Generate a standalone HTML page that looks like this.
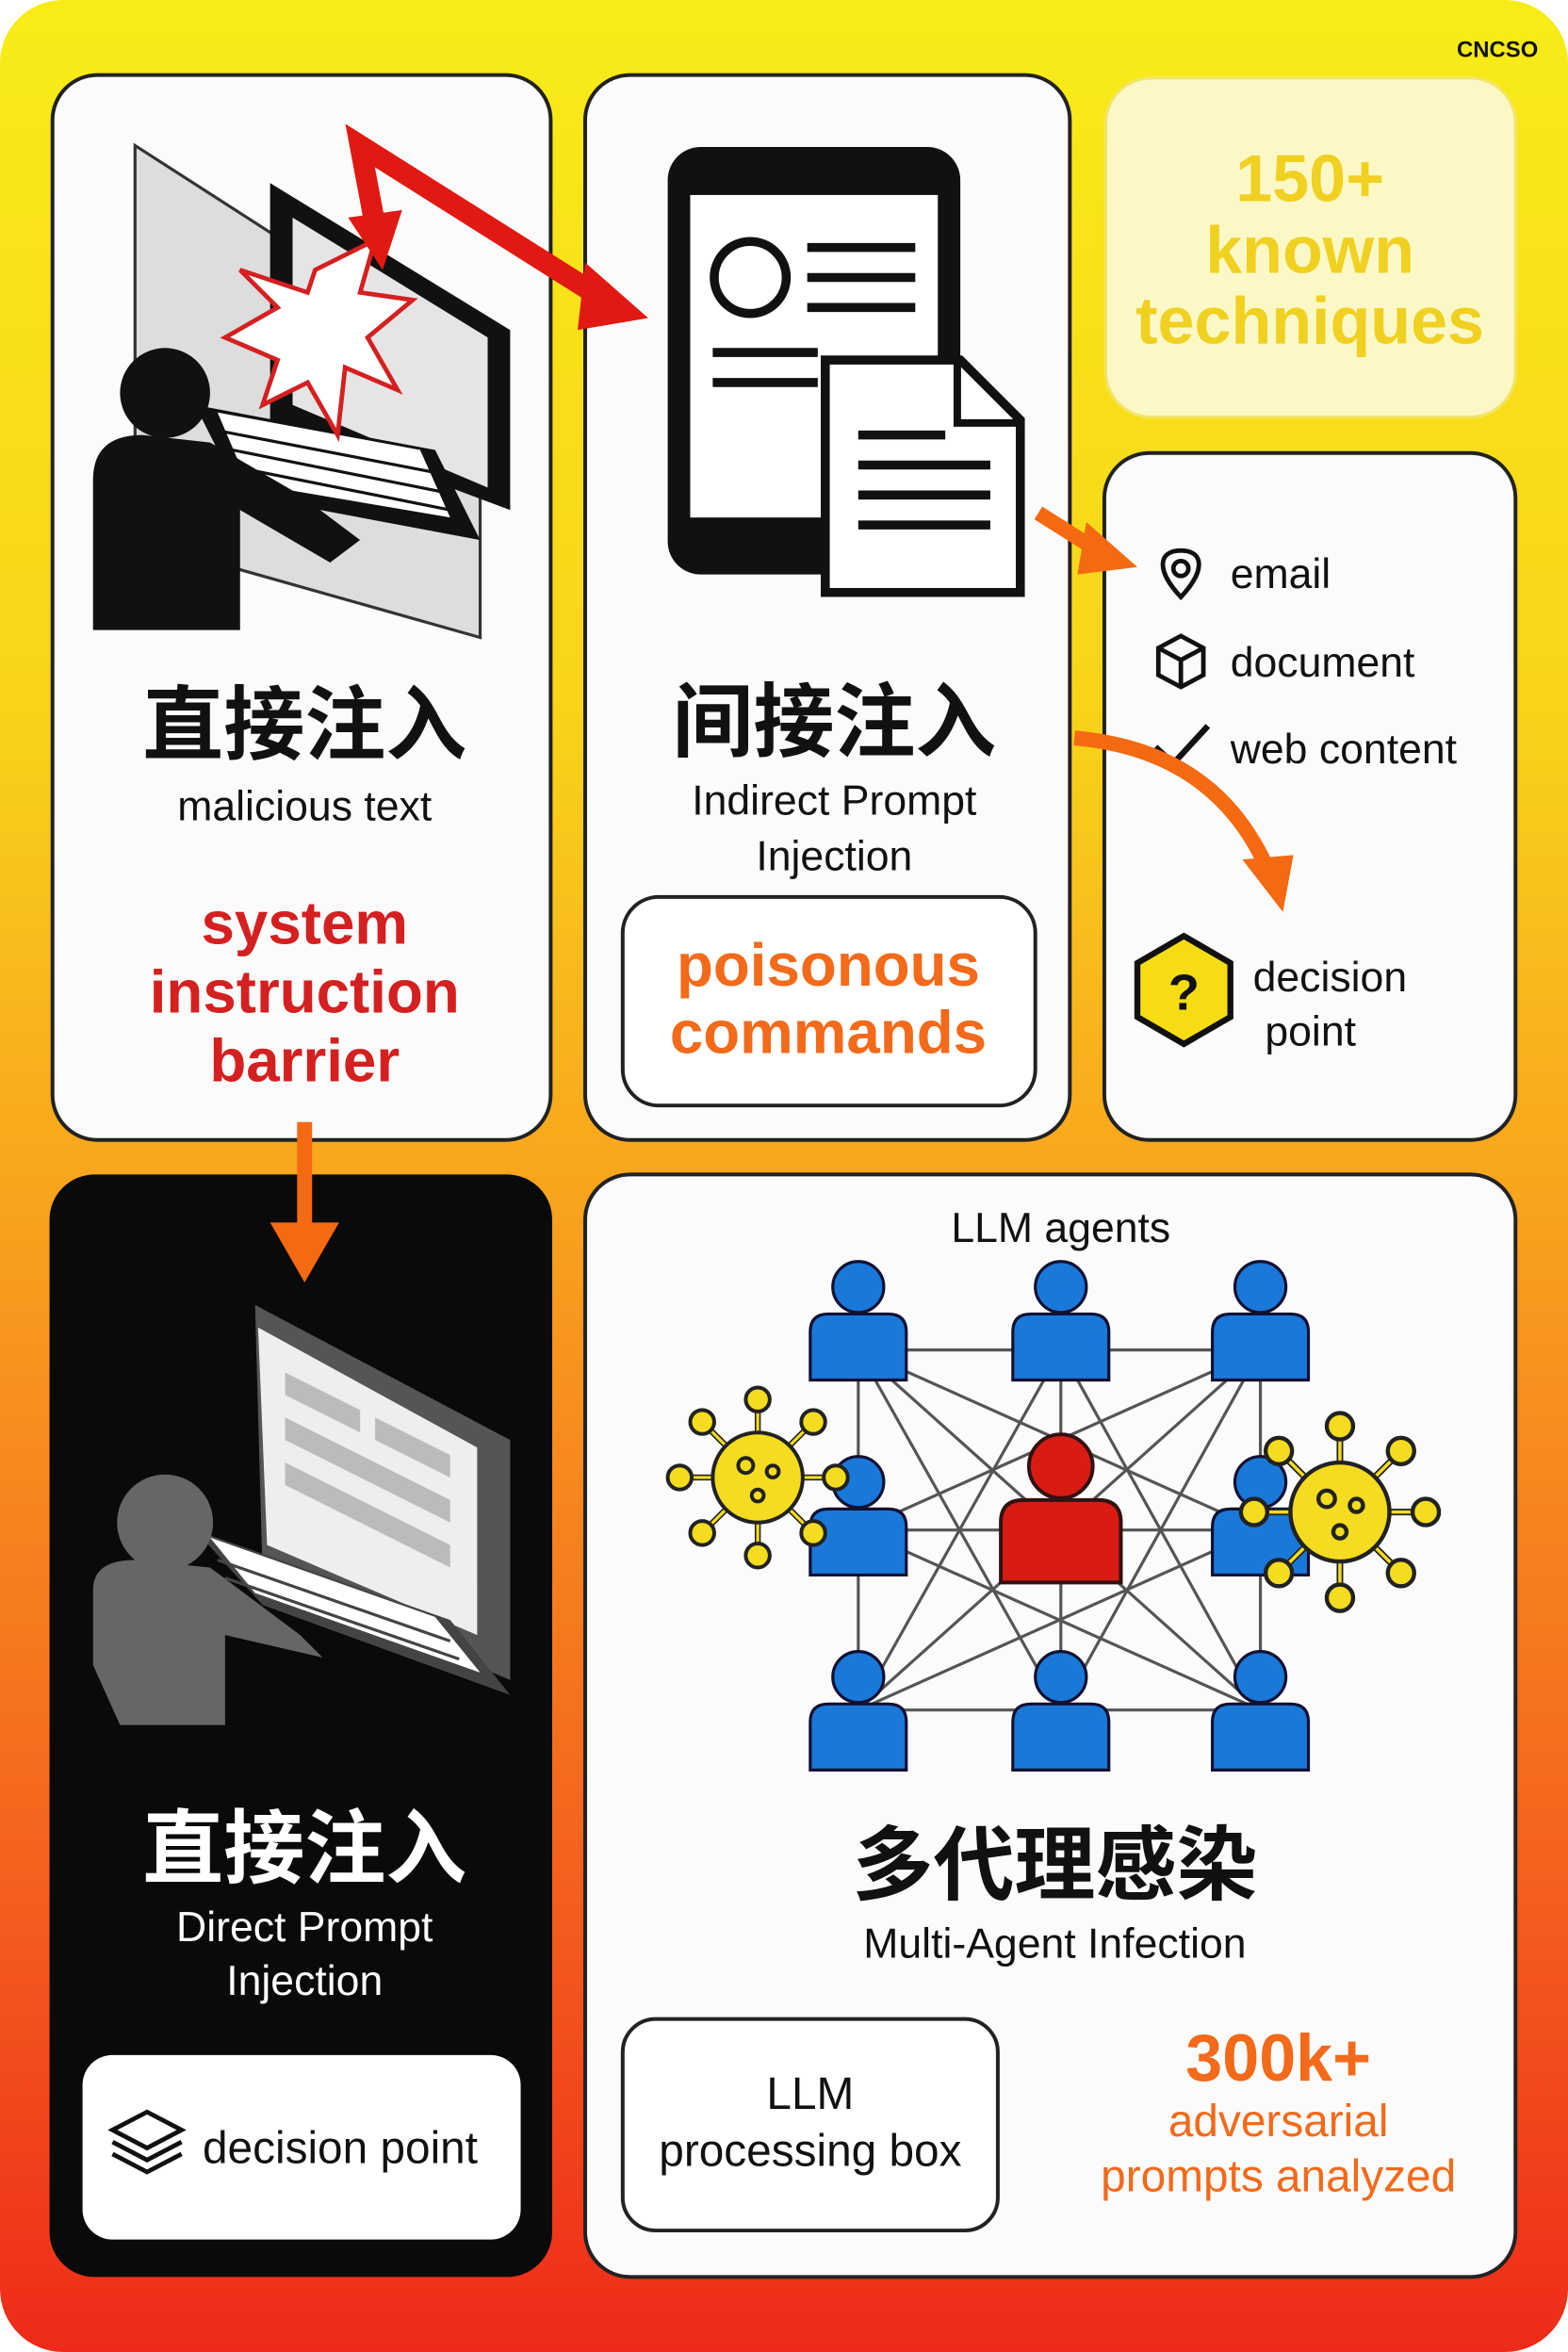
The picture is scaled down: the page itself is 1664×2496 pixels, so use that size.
<!DOCTYPE html>
<html><head><meta charset="utf-8"><style>
html,body{margin:0;padding:0;background:#fff;}
svg{display:block;}
text{font-family:"Liberation Sans","Noto Sans CJK SC",sans-serif;}
</style></head><body>
<svg width="1664" height="2496" viewBox="0 0 1045 1568" preserveAspectRatio="none" xmlns="http://www.w3.org/2000/svg">
<defs>
<linearGradient id="bg" x1="0" y1="0" x2="0" y2="1">
<stop offset="0" stop-color="#f8ec18"/><stop offset="0.3" stop-color="#f8d41a"/>
<stop offset="0.55" stop-color="#f89a1e"/><stop offset="0.8" stop-color="#f4601e"/><stop offset="1" stop-color="#ee2a1a"/>
</linearGradient>
<g id="person"><circle cx="0" cy="-22" r="17"/><path d="M-32 40 L-32 8 Q-32 -4 -20 -4 L20 -4 Q32 -4 32 8 L32 40 Z"/></g>
<g id="virus" fill="#f4dc20" stroke="#222" stroke-width="2.5">
<g stroke="#222" stroke-width="4"><line x1="-50" y1="0" x2="50" y2="0"/><line x1="0" y1="-50" x2="0" y2="50"/><line x1="-36" y1="-36" x2="36" y2="36"/><line x1="-36" y1="36" x2="36" y2="-36"/></g>
<g stroke="#f4dc20" stroke-width="2"><line x1="-48" y1="0" x2="48" y2="0"/><line x1="0" y1="-48" x2="0" y2="48"/><line x1="-34" y1="-34" x2="34" y2="34"/><line x1="-34" y1="34" x2="34" y2="-34"/></g>
<circle r="8" cx="-52" cy="0"/><circle r="8" cx="52" cy="0"/><circle r="8" cx="0" cy="-52"/><circle r="8" cx="0" cy="52"/>
<circle r="8" cx="-37" cy="-37"/><circle r="8" cx="37" cy="37"/><circle r="8" cx="-37" cy="37"/><circle r="8" cx="37" cy="-37"/>
<circle r="30"/><circle r="5" cx="-8" cy="-8"/><circle r="4" cx="10" cy="-4"/><circle r="4" cx="0" cy="12"/>
</g>
</defs>
<rect x="0" y="0" width="1045" height="1568" rx="42" fill="url(#bg)"/>
<text x="998" y="38" font-size="15" font-weight="bold" text-anchor="middle" fill="#111">CNCSO</text>

<!-- Panel 1 -->
<rect x="35" y="50" width="332" height="710" rx="30" fill="#fbfbfb" stroke="#222" stroke-width="2.5"/>
<polygon points="90,97 320,245 320,425 90,360" fill="#ddd" stroke="#333" stroke-width="2"/>
<path d="M180 122 L340 220 L340 340 L180 280 Z" fill="#111"/>
<path d="M195 145 L325 225 L325 325 L195 270 Z" fill="#e5e5e5"/>
<polygon points="130,270 290,300 320,360 160,330" fill="#111"/>
<polygon points="145,275 280,300 300,345 165,322" fill="#fff"/>
<g stroke="#111" stroke-width="2"><line x1="150" y1="288" x2="290" y2="315"/><line x1="155" y1="300" x2="295" y2="328"/><line x1="160" y1="312" x2="300" y2="340"/></g>
<circle cx="110" cy="262" r="30" fill="#111"/>
<path d="M62 420 L62 320 Q62 290 95 290 L140 295 L200 330 L240 360 L220 375 L160 340 L160 420 Z" fill="#111"/>
<polygon points="210,180 250,160 240,195 275,200 245,225 265,260 230,245 225,290 205,255 175,270 185,240 150,225 185,205 160,180 205,195" fill="#fff" stroke="#d42020" stroke-width="3"/>
<text x="203" y="502" font-size="54" font-weight="bold" text-anchor="middle" fill="#111">直接注入</text>
<text x="203" y="547" font-size="28" text-anchor="middle" fill="#111">malicious text</text>
<g font-size="40" font-weight="bold" text-anchor="middle" fill="#d42020">
<text x="203" y="629">system</text><text x="203" y="675">instruction</text><text x="203" y="721">barrier</text></g>

<!-- Panel 2 -->
<rect x="390" y="50" width="323" height="710" rx="30" fill="#fbfbfb" stroke="#222" stroke-width="2.5"/>
<rect x="445" y="98" width="195" height="285" rx="22" fill="#111"/>
<rect x="460" y="130" width="165" height="215" fill="#fff"/>
<circle cx="500" cy="185" r="24" fill="none" stroke="#111" stroke-width="6"/>
<g stroke="#111" stroke-width="6"><line x1="538" y1="165" x2="610" y2="165"/><line x1="538" y1="185" x2="610" y2="185"/><line x1="538" y1="205" x2="610" y2="205"/><line x1="475" y1="235" x2="545" y2="235"/><line x1="475" y1="255" x2="545" y2="255"/></g>
<path d="M550 240 L640 240 L680 280 L680 395 L550 395 Z" fill="#fff" stroke="#111" stroke-width="6"/>
<path d="M638 242 L638 282 L678 282" fill="none" stroke="#111" stroke-width="5"/>
<g stroke="#111" stroke-width="6"><line x1="572" y1="290" x2="630" y2="290"/><line x1="572" y1="310" x2="660" y2="310"/><line x1="572" y1="330" x2="660" y2="330"/><line x1="572" y1="350" x2="660" y2="350"/></g>
<text x="556" y="500" font-size="54" font-weight="bold" text-anchor="middle" fill="#111">间接注入</text>
<text x="556" y="543" font-size="28" text-anchor="middle" fill="#111">Indirect Prompt</text>
<text x="556" y="580" font-size="28" text-anchor="middle" fill="#111">Injection</text>
<rect x="415" y="598" width="275" height="139" rx="24" fill="#fff" stroke="#222" stroke-width="2.5"/>
<text x="552" y="657" font-size="40" font-weight="bold" text-anchor="middle" fill="#f26a1a">poisonous</text>
<text x="552" y="702" font-size="40" font-weight="bold" text-anchor="middle" fill="#f26a1a">commands</text>

<!-- Panel 3 -->
<rect x="737" y="52" width="273" height="226" rx="30" fill="#fcf8c6" stroke="#f2e56a" stroke-width="2"/>
<g font-size="44" font-weight="bold" text-anchor="middle" fill="#f0d020">
<text x="873" y="134">150+</text><text x="873" y="182">known</text><text x="873" y="229">techniques</text></g>

<!-- Panel 4 -->
<rect x="736" y="302" width="274" height="458" rx="30" fill="#fbfbfb" stroke="#222" stroke-width="2.5"/>
<path d="M787 398 C770 380 772 367 787 367 C802 367 804 380 787 398 Z" fill="none" stroke="#111" stroke-width="3"/>
<circle cx="787" cy="379" r="5" fill="none" stroke="#111" stroke-width="3"/>
<path d="M772 432 L787 424 L802 432 L802 450 L787 458 L772 450 Z M772 432 L787 440 L802 432 M787 440 L787 458" fill="none" stroke="#111" stroke-width="3"/>
<polyline points="770,498 782,509 805,484" fill="none" stroke="#111" stroke-width="4"/>
<g font-size="28" fill="#111"><text x="820" y="392">email</text><text x="820" y="451">document</text><text x="820" y="509">web content</text></g>
<polygon points="789,624 820,642 820,678 789,696 758,678 758,642" fill="#f6dc12" stroke="#111" stroke-width="4"/>
<text x="789" y="673" font-size="34" font-weight="bold" text-anchor="middle" fill="#111">?</text>
<text x="835" y="661" font-size="28" fill="#111">decision</text>
<text x="843" y="697" font-size="28" fill="#111">point</text>

<!-- Panel 5 -->
<rect x="33" y="783" width="335" height="735" rx="30" fill="#0a0a0a"/>
<path d="M170 870 L340 960 L340 1120 L175 1050 Z" fill="#555"/>
<path d="M172 885 L318 965 L318 1090 L178 1030 Z" fill="#eee"/>
<g fill="#bbb"><polygon points="190,915 240,940 240,955 190,930"/><polygon points="250,945 300,970 300,985 250,960"/><polygon points="190,945 300,1000 300,1015 190,960"/><polygon points="190,975 300,1030 300,1045 190,990"/></g>
<polygon points="130,1020 300,1080 340,1130 175,1070" fill="#444"/>
<polygon points="140,1025 290,1078 320,1115 170,1062" fill="#fff"/>
<g stroke="#444" stroke-width="2"><line x1="145" y1="1040" x2="300" y2="1094"/><line x1="150" y1="1052" x2="306" y2="1106"/></g>
<circle cx="110" cy="1015" r="32" fill="#666"/>
<path d="M62 1110 L62 1060 Q62 1040 90 1040 L140 1045 L200 1090 L215 1105 L150 1090 L150 1150 L80 1150 Z" fill="#666"/>
<text x="203" y="1251" font-size="54" font-weight="bold" text-anchor="middle" fill="#fff">直接注入</text>
<text x="203" y="1294" font-size="28" text-anchor="middle" fill="#fff">Direct Prompt</text>
<text x="203" y="1330" font-size="28" text-anchor="middle" fill="#fff">Injection</text>
<rect x="55" y="1370" width="292" height="123" rx="20" fill="#fff"/>
<g fill="none" stroke="#111" stroke-width="3"><path d="M75 1420 L98 1408 L121 1420 L98 1432 Z"/><path d="M75 1428 L98 1440 L121 1428"/><path d="M75 1436 L98 1448 L121 1436"/></g>
<text x="135" y="1442" font-size="30" fill="#111">decision point</text>

<!-- Panel 6 -->
<rect x="390" y="783" width="620" height="735" rx="30" fill="#fbfbfb" stroke="#222" stroke-width="2.5"/>
<text x="707" y="828" font-size="28" text-anchor="middle" fill="#111">LLM agents</text>
<g stroke="#555" stroke-width="2">
<line x1="572" y1="900" x2="840" y2="1140"/><line x1="840" y1="900" x2="572" y2="1140"/>
<line x1="572" y1="900" x2="707" y2="1140"/><line x1="707" y1="900" x2="572" y2="1140"/>
<line x1="840" y1="900" x2="707" y2="1140"/><line x1="707" y1="900" x2="840" y2="1140"/>
<line x1="572" y1="900" x2="840" y2="1020"/><line x1="840" y1="900" x2="572" y2="1020"/>
<line x1="572" y1="1020" x2="840" y2="1140"/><line x1="840" y1="1020" x2="572" y2="1140"/>
<line x1="572" y1="900" x2="840" y2="900"/><line x1="572" y1="1140" x2="840" y2="1140"/>
<line x1="572" y1="900" x2="572" y2="1140"/><line x1="840" y1="900" x2="840" y2="1140"/>
<line x1="707" y1="900" x2="707" y2="1140"/><line x1="572" y1="1020" x2="840" y2="1020"/>
</g>
<g fill="#1a78d8" stroke="#113" stroke-width="2">
<use href="#person" x="572" y="880"/><use href="#person" x="707" y="880"/><use href="#person" x="840" y="880"/>
<use href="#person" x="572" y="1010"/><use href="#person" x="840" y="1010"/>
<use href="#person" x="572" y="1140"/><use href="#person" x="707" y="1140"/><use href="#person" x="840" y="1140"/>
</g>
<g fill="#d81c14" stroke="#311" stroke-width="2"><g transform="translate(707,1005) scale(1.25)"><use href="#person"/></g></g>
<use href="#virus" x="505" y="985"/>
<g transform="translate(893,1008) scale(1.1)"><use href="#virus"/></g>
<text x="703" y="1262" font-size="54" font-weight="bold" text-anchor="middle" fill="#111">多代理感染</text>
<text x="703" y="1305" font-size="28" text-anchor="middle" fill="#111">Multi-Agent Infection</text>
<rect x="415" y="1346" width="250" height="141" rx="22" fill="#fff" stroke="#222" stroke-width="2.5"/>
<text x="540" y="1406" font-size="30" text-anchor="middle" fill="#111">LLM</text>
<text x="540" y="1444" font-size="30" text-anchor="middle" fill="#111">processing box</text>
<text x="852" y="1387" font-size="44" font-weight="bold" text-anchor="middle" fill="#f26a1a">300k+</text>
<text x="852" y="1424" font-size="30" text-anchor="middle" fill="#f26a1a">adversarial</text>
<text x="852" y="1461" font-size="30" text-anchor="middle" fill="#f26a1a">prompts analyzed</text>

<!-- arrows on top -->
<polyline points="250,150 240,97 400,198" fill="none" stroke="#e01a12" stroke-width="14" stroke-linejoin="miter"/>
<polygon points="232,145 268,140 255,180" fill="#e01a12"/>
<polygon points="390,175 432,212 385,220" fill="#e01a12"/>
<g fill="none" stroke="#f46a12" stroke-width="10">
<line x1="692" y1="342" x2="730" y2="366"/>
<path d="M716 492 Q810 500 845 580"/>
<line x1="203" y1="748" x2="203" y2="818"/>
</g>
<polygon points="724,348 758,378 718,383" fill="#f46a12"/>
<polygon points="828,573 862,570 855,608" fill="#f46a12"/>
<polygon points="180,815 226,815 203,855" fill="#f46a12"/>
</svg>
</body></html>
